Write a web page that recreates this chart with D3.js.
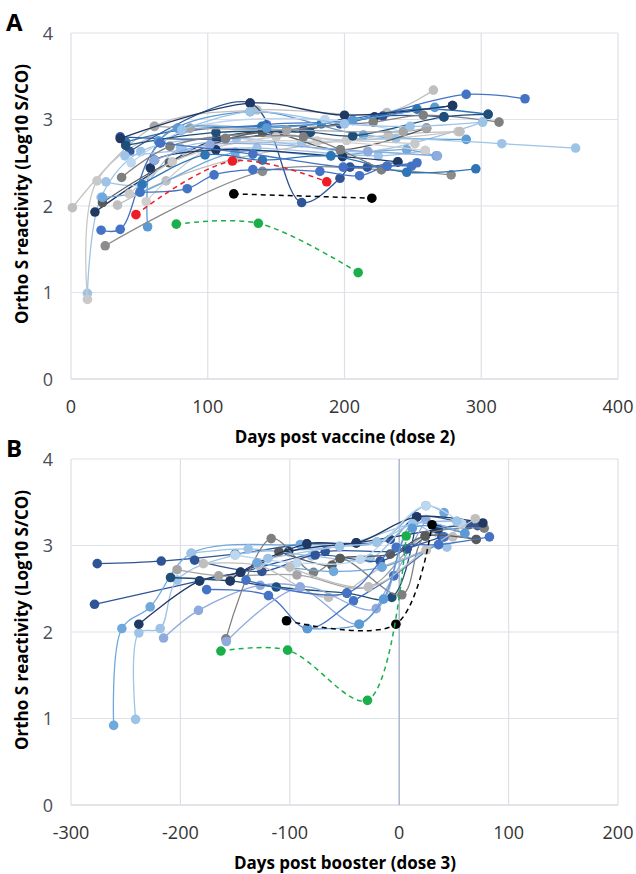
<!DOCTYPE html>
<html>
<head>
<meta charset="utf-8">
<script src="https://cdnjs.cloudflare.com/ajax/libs/d3/7.8.5/d3.min.js"></script>
<style>
  body { margin: 0; background: #fff; }
  text { font-family: "Open Sans", sans-serif; }
</style>
</head>
<body>
<svg width="636" height="874"></svg>
<script>
// ---- data: [day, log10 S/CO] per subject ----
var yTicks = [0, 1, 2, 3, 4];
var xTicksA = [0, 100, 200, 300, 400];
var xTicksB = [-300, -200, -100, 0, 100, 200];

var seriesA = [
  [[1,1.98],[61,2.92],[136,3.11],[231,3.08],[265,3.34]],
  [[12,0.99],[22,2.10],[51,2.63],[121,2.78],[217,2.63],[301,2.97]],
  [[12,0.92],[19,2.29],[78,2.90],[201.6,2.76],[283,2.86]],
  [[17.5,1.93],[106.5,2.78],[170,2.88],[222,3.03],[279,3.16]],
  [[22,1.72],[36,1.73],[65.6,2.73],[143,2.94],[206,2.99],[289,3.29],[332,3.24]],
  [[56,1.76],[64,2.75],[131,3.09],[213.8,2.82],[289,2.77]],
  [[25,1.54],[140,2.40],[227,2.42],[278,2.36]],
  [[36,2.80],[113,2.78],[196.7,2.95],[228,3.04],[272.7,3.03]],
  [[40,2.74],[81,2.88],[139.5,2.92],[183,2.95],[253,3.12],[305,3.06]],
  [[43,2.63],[131,3.19],[168.7,2.04],[196.7,2.32],[204,2.45],[216.7,2.45],[239,2.51]],
  [[39.5,2.58],[82,2.64],[136,2.67],[224.7,2.58],[259,2.64]],
  [[44,2.50],[87,2.90],[185.7,3.00],[243,2.86]],
  [[37,2.33],[72.4,2.69],[157.7,2.88],[221,2.97],[257.6,3.05],[313,2.97]],
  [[34,2.01],[69.5,2.29],[121,2.55],[232,2.82],[284.5,2.86]],
  [[25.6,2.28],[52,2.25],[80,2.67],[168.7,2.73],[237.6,2.78],[315,2.72],[369,2.67]],
  [[23,2.04],[72,2.50],[140,2.85],[197,2.65],[260,2.90]],
  [[23,2.10],[50.5,2.16],[120,2.62],[190,2.58],[245.5,2.65],[267,2.58]],
  [[42.6,2.14],[74,2.51],[150,2.80],[201.6,2.76],[251.5,2.72]],
  [[55,2.05],[100,2.65],[180,2.75],[259,2.64]],
  [[50.5,2.16],[85,2.20],[104.6,2.36],[133,2.42],[182,2.40],[211,2.35],[231,2.46],[249,2.46]],
  [[58,2.44],[61,2.53],[106,2.65],[198.6,2.57],[239,2.51]],
  [[52,2.25],[98,2.59],[140,2.53],[190,2.58],[245.5,2.39],[296,2.43]],
  [[61,2.53],[101.6,2.71],[217,2.63],[268,2.58]],
  [[40,2.70],[106,2.85],[175,2.85],[206,2.81],[272.7,3.03],[305,3.06]],
  [[61,2.92],[87,2.90],[157.7,2.88],[243,2.86],[260,2.90]],
  [[64,2.75],[78,2.90],[143,2.90],[206,2.99],[266,3.14]],
  [[36,2.78],[131,3.19],[200,3.05],[279,3.16]],
  [[81,2.88],[131,3.09],[200,2.95],[248,2.92],[301,2.97]],
  [[113,2.78],[170,2.80],[197,2.65],[227,2.42]],
  [[65,2.73],[133,2.60],[199,2.45],[231,2.46],[253,2.50]]
];
var colorsA = ["#bfbfbf","#9dc3e6","#c9c9c9","#1f3864","#4472c4","#5b9bd5","#8c8c8c","#2f5597",
  "#2e75b6","#2f5597","#9dc3e6","#bdd7ee","#7f7f7f","#bfbfbf","#9dc3e6","#595959","#6fa8dc",
  "#c9c9c9","#d0cece","#4472c4","#203864","#2e75b6","#8faadc","#1f4e79","#a5a5a5","#5b9bd5",
  "#203864","#9dc3e6","#7f7f7f","#4472c4"];

var seriesB = [
  [[-276,2.79],[-217.5,2.82],[-150,2.90],[-84.4,3.02],[-8.2,3.07],[16,3.33],[63.4,3.24]],
  [[-278.5,2.32],[-182.5,2.59],[-145,2.69],[-67.6,2.93],[7,2.96],[34.5,3.19],[71.6,3.23]],
  [[-261,0.92],[-253.5,2.04],[-227.6,2.29],[-190,2.91],[-90.5,3.01],[-20.4,3.04],[24.4,3.46],[41,3.38]],
  [[-241,0.99],[-238,1.99],[-218.5,2.04],[-203,2.60],[-150,2.89],[-54.5,2.99],[12.5,3.25],[52.7,3.28]],
  [[-238,2.09],[-182.5,2.59],[-145,2.69],[-101,2.93],[-39.3,3.03],[36,3.19]],
  [[-215.4,1.93],[-183.5,2.25],[-127,2.54],[-90.5,2.52],[-36.6,2.09],[-5,2.65],[24.4,3.30]],
  [[-209,2.63],[-154.5,2.59],[-112.4,2.52],[-47.8,2.45],[-6.7,2.40],[16,3.33]],
  [[-203,2.72],[-165,2.65],[-93.5,2.66],[-28,2.52],[23.8,3.11],[70.4,3.07]],
  [[-190,2.91],[-138,2.96],[-80,2.88],[-26.5,2.85],[12.5,3.25],[43.6,2.98]],
  [[-187,2.83],[-125.5,2.70],[-76.8,2.89],[-17.4,2.82],[7,2.96],[39,3.10]],
  [[-179,2.79],[-128.6,2.77],[-64.6,2.40],[-15.8,2.75],[24.7,2.95],[49,3.10]],
  [[-176,2.49],[-119.5,2.42],[-84,2.04],[-41.8,2.36],[-5,2.65],[41,3.10]],
  [[-158.4,1.92],[-117,3.08],[-78.3,2.69],[-54,2.85],[2.4,2.43],[23.8,3.11],[77.7,3.20]],
  [[-158,1.89],[-90.5,2.52],[-21,2.27],[12.5,3.25],[60,3.14]],
  [[-110,2.93],[-61.5,2.77],[-54,2.85],[-8.2,2.90],[23.8,3.11],[70.4,3.07]],
  [[-154.5,2.59],[-145,2.69],[-84.4,3.02],[-39.3,3.03],[16,3.33],[76.5,3.26]],
  [[-150,2.89],[-93.5,2.80],[-35.6,2.84],[24.4,3.46],[57.3,3.25]],
  [[-120,2.85],[-54.5,2.99],[-20.4,3.04],[12.5,3.25],[52.7,3.28]],
  [[-130,2.80],[-60,2.70],[-15.8,2.75],[36,3.01]],
  [[-100,2.75],[-28,2.52],[24.7,2.95],[69.5,3.31]],
  [[-140,2.60],[-47.8,2.45],[-2.7,2.98],[36,3.01],[82.5,3.10]],
  [[-84,2.04],[-36.6,2.09],[-14.3,2.38],[12,3.20],[60,3.14]]
];
var colorsB = ["#2f5597","#2f5597","#6fa8dc","#9dc3e6","#1f3864","#8faadc","#1f4e79","#a5a5a5",
  "#9dc3e6","#2f5597","#bfbfbf","#4472c4","#7f7f7f","#8faadc","#595959","#203864","#bdd7ee",
  "#9dc3e6","#6fa8dc","#bfbfbf","#4472c4","#5b9bd5"];

// highlighted subjects (dashed)
var dashedA = [
  [[47.5,1.90],[118,2.52],[187,2.28]],
  [[119,2.14],[220,2.09]],
  [[77,1.79],[137,1.80],[210,1.23]]
];
var dashedB = [
  [[-103,2.13],[-3,2.09],[30,3.24]],
  [[-163,1.78],[-102,1.79],[-29,1.21],[6.4,3.11]]
];
var dashedColorsA = ["#ee1c25", "#000000", "#1aaf4b"];
var dashedColorsB = ["#000000", "#1aaf4b"];

var svg = d3.select("svg");

function drawPanel(cfg) {
  var x = d3.scaleLinear().domain(cfg.xDomain).range([71, 618]);
  var y = d3.scaleLinear().domain([0, 4]).range([cfg.bottom, cfg.top]);
  var g = svg.append("g");

  // gridlines
  g.selectAll("line.hgrid").data(yTicks).enter().append("line")
    .attr("x1", x.range()[0]).attr("x2", x.range()[1])
    .attr("y1", function(d) { return y(d); }).attr("y2", function(d) { return y(d); })
    .style("stroke", function(d) { return d == 0 ? "#c5cad6" : "#dfe2e8"; })
    .style("stroke-width", 1.2);
  g.selectAll("line.vgrid").data(cfg.xTicks).enter().append("line")
    .attr("y1", y(0)).attr("y2", y(4))
    .attr("x1", function(d) { return x(d); }).attr("x2", function(d) { return x(d); })
    .style("stroke", function(d) { return d === cfg.axisAt ? "#aeb8cb" : "#dde0e7"; })
    .style("stroke-width", function(d) { return d === cfg.axisAt ? 1.5 : 1.2; });

  // tick labels
  g.selectAll("text.ylab").data(yTicks).enter().append("text")
    .attr("x", 53).attr("y", function(d) { return y(d) + 6.5; })
    .style("text-anchor", "end").style("font-size", "18px").style("fill", "#4a4e58")
    .text(function(d) { return d; });
  g.selectAll("text.xlab").data(cfg.xTicks).enter().append("text")
    .attr("x", function(d) { return x(d); }).attr("y", cfg.bottom + 34)
    .style("text-anchor", "middle").style("font-size", "18px").style("fill", "#333")
    .text(function(d) { return d; });

  // titles
  g.append("text")
    .attr("x", 345).attr("y", cfg.bottom + 64)
    .style("text-anchor", "middle").style("font-size", "17px").style("font-weight", "bold")
    .text(cfg.xTitle);
  g.append("text")
    .attr("transform", "translate(28," + ((cfg.top + cfg.bottom) / 2 - 12) + ") rotate(-90)")
    .style("text-anchor", "middle").style("font-size", "17px").style("font-weight", "bold")
    .text("Ortho S reactivity (Log10 S/CO)");
  g.append("text")
    .attr("x", 6).attr("y", cfg.top - 2)
    .style("font-size", "24px").style("font-weight", "bold")
    .text(cfg.label);

  var line = d3.line()
    .x(function(d) { return x(d[0]); })
    .y(function(d) { return y(d[1]); })
    .curve(d3.curveCatmullRom.alpha(0.5));

  function addSeries(data, colors, dashed) {
    var s = g.append("g").selectAll("g").data(data).enter().append("g");
    s.append("path")
      .attr("d", line)
      .style("fill", "none")
      .style("stroke", function(d, i) { return colors[i]; })
      .style("stroke-width", dashed ? 1.5 : 1.3)
      .style("stroke-dasharray", dashed ? "5,4" : null);
    s.each(function(d, i) {
      d3.select(this).selectAll("circle").data(d).enter().append("circle")
        .attr("cx", function(p) { return x(p[0]); })
        .attr("cy", function(p) { return y(p[1]); })
        .attr("r", 4.8)
        .style("fill", colors[i]);
    });
  }
  addSeries(cfg.series, cfg.colors, false);
  addSeries(cfg.dashed, cfg.dashedColors, true);
}

drawPanel({ xDomain: [0, 400], xTicks: xTicksA, top: 33, bottom: 379, axisAt: null,
  xTitle: "Days post vaccine (dose 2)", label: "A",
  series: seriesA, colors: colorsA, dashed: dashedA, dashedColors: dashedColorsA });
drawPanel({ xDomain: [-300, 200], xTicks: xTicksB, top: 459, bottom: 805, axisAt: 0,
  xTitle: "Days post booster (dose 3)", label: "B",
  series: seriesB, colors: colorsB, dashed: dashedB, dashedColors: dashedColorsB });
</script>
</body>
</html>
